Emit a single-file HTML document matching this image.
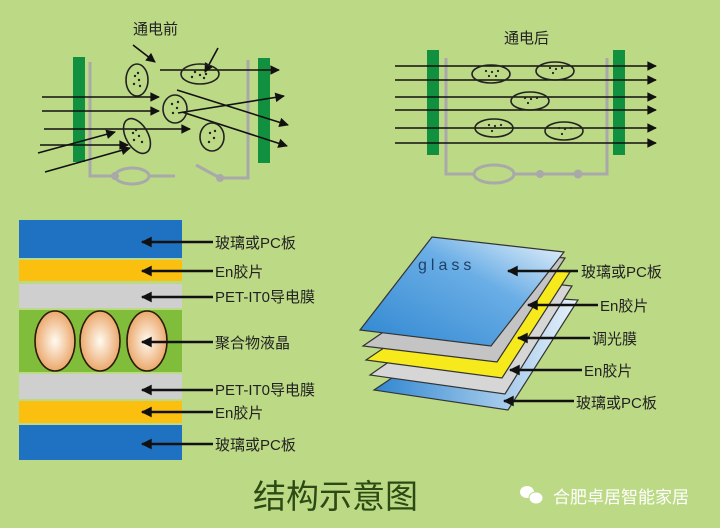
<!DOCTYPE html>
<html><head><meta charset="utf-8"><style>
html,body{margin:0;padding:0;background:#bcd985;}
svg{display:block}
text{font-family:"Liberation Sans","Noto Sans CJK SC",sans-serif;}
</style></head><body>
<svg width="720" height="528" viewBox="0 0 720 528" xmlns="http://www.w3.org/2000/svg">
<defs>
<marker id="ah" viewBox="0 0 10 10" refX="9" refY="5" markerWidth="7" markerHeight="6" orient="auto" markerUnits="strokeWidth"><path d="M0,0 L10,5 L0,10 z" fill="#111"/></marker>
<marker id="ah2" viewBox="0 0 10 10" refX="9" refY="5" markerWidth="5" markerHeight="4.5" orient="auto" markerUnits="strokeWidth"><path d="M0,0 L10,5 L0,10 z" fill="#111"/></marker>
<radialGradient id="eg" cx="50%" cy="50%" r="55%"><stop offset="0" stop-color="#fffaf0"/><stop offset="1" stop-color="#e9a060"/></radialGradient>
<linearGradient id="gl" x1="0" y1="1" x2="1" y2="0"><stop offset="0" stop-color="#2f86d0"/><stop offset="0.6" stop-color="#6aaee6"/><stop offset="1" stop-color="#eef5fb"/></linearGradient>
<linearGradient id="gl2" x1="0" y1="0" x2="1" y2="0"><stop offset="0" stop-color="#2f86d0"/><stop offset="1" stop-color="#e8f2fb"/></linearGradient>
</defs>
<rect width="720" height="528" fill="#bcd985"/>

<!-- top left -->
<text x="133" y="34" font-size="15" fill="#222">通电前</text>
<rect x="73" y="57" width="12" height="105" fill="#119140"/>
<rect x="258" y="58" width="12" height="105" fill="#119140"/>
<g stroke="#a9a9a9" stroke-width="3" fill="none">
<path d="M90,62 V176 H115"/>
<ellipse cx="132" cy="176" rx="17" ry="8"/>
<path d="M149,176 H175"/>
<path d="M196,165 L220,178 H248 V60"/>
</g>
<circle cx="115" cy="176" r="4" fill="#a9a9a9"/><circle cx="220" cy="178" r="4" fill="#a9a9a9"/>
<g stroke="#111" stroke-width="1.6" fill="none">
<line x1="133" y1="45" x2="155" y2="62" marker-end="url(#ah)"/>
<line x1="218" y1="48" x2="205" y2="72" marker-end="url(#ah)"/>
<line x1="160" y1="70" x2="279" y2="70" marker-end="url(#ah)"/>
<line x1="42" y1="97" x2="159" y2="97" marker-end="url(#ah)"/>
<line x1="42" y1="111" x2="159" y2="111" marker-end="url(#ah)"/>
<line x1="44" y1="129" x2="190" y2="129" marker-end="url(#ah)"/>
<line x1="40" y1="145" x2="128" y2="145" marker-end="url(#ah)"/>
<line x1="38" y1="153" x2="115" y2="132" marker-end="url(#ah)"/>
<line x1="45" y1="172" x2="130" y2="148" marker-end="url(#ah)"/>
<line x1="177" y1="90" x2="288" y2="125" marker-end="url(#ah)"/>
<line x1="178" y1="113" x2="284" y2="96" marker-end="url(#ah)"/>
<line x1="182" y1="112" x2="287" y2="146" marker-end="url(#ah)"/>
</g>
<g stroke="#222" stroke-width="1.6" fill="none">
<ellipse cx="137" cy="80" rx="11" ry="16"/>
<ellipse cx="200" cy="74" rx="19" ry="10"/>
<ellipse cx="175" cy="109" rx="12" ry="14"/>
<ellipse cx="137" cy="136" rx="11" ry="19" transform="rotate(-30 137 136)"/>
<ellipse cx="212" cy="137" rx="12" ry="14"/>
</g>
<g fill="#222">
<circle cx="135" cy="76" r="1.2"/><circle cx="139" cy="80" r="1.2"/><circle cx="134" cy="84" r="1.2"/><circle cx="140" cy="86" r="1.2"/><circle cx="138" cy="73" r="1.2"/>
<circle cx="195" cy="72" r="1.2"/><circle cx="200" cy="75" r="1.2"/><circle cx="206" cy="74" r="1.2"/><circle cx="192" cy="77" r="1.2"/><circle cx="204" cy="78" r="1.2"/>
<circle cx="172" cy="104" r="1.2"/><circle cx="177" cy="108" r="1.2"/><circle cx="173" cy="113" r="1.2"/><circle cx="178" cy="102" r="1.2"/>
<circle cx="136" cy="130" r="1.2"/><circle cx="139" cy="136" r="1.2"/><circle cx="142" cy="142" r="1.2"/><circle cx="134" cy="140" r="1.2"/><circle cx="133" cy="133" r="1.2"/>
<circle cx="210" cy="133" r="1.2"/><circle cx="214" cy="138" r="1.2"/><circle cx="209" cy="142" r="1.2"/><circle cx="215" cy="131" r="1.2"/>
</g>

<!-- top right -->
<text x="504" y="43" font-size="15" fill="#222">通电后</text>
<rect x="427" y="50" width="12" height="105" fill="#119140"/>
<rect x="613" y="50" width="12" height="105" fill="#119140"/>
<g stroke="#a9a9a9" stroke-width="3" fill="none">
<path d="M446,58 V174 H474"/>
<ellipse cx="494" cy="174" rx="20" ry="9"/>
<path d="M514,174 H578 H607 V58"/>
</g>
<circle cx="540" cy="174" r="4" fill="#a9a9a9"/><circle cx="578" cy="174" r="4.5" fill="#a9a9a9"/>
<g stroke="#111" stroke-width="1.6">
<line x1="395" y1="66" x2="656" y2="66" marker-end="url(#ah)"/>
<line x1="395" y1="80" x2="656" y2="80" marker-end="url(#ah)"/>
<line x1="395" y1="97" x2="656" y2="97" marker-end="url(#ah)"/>
<line x1="395" y1="110" x2="656" y2="110" marker-end="url(#ah)"/>
<line x1="395" y1="128" x2="656" y2="128" marker-end="url(#ah)"/>
<line x1="395" y1="143" x2="656" y2="143" marker-end="url(#ah)"/>
</g>
<g stroke="#222" stroke-width="1.6" fill="none">
<ellipse cx="491" cy="74" rx="19" ry="9"/>
<ellipse cx="555" cy="71" rx="19" ry="9"/>
<ellipse cx="530" cy="101" rx="19" ry="9"/>
<ellipse cx="494" cy="128" rx="19" ry="9"/>
<ellipse cx="564" cy="131" rx="19" ry="9"/>
</g>
<g fill="#222">
<circle cx="486" cy="71" r="1.1"/><circle cx="492" cy="72" r="1.1"/><circle cx="498" cy="71" r="1.1"/><circle cx="489" cy="76" r="1.1"/><circle cx="496" cy="76" r="1.1"/>
<circle cx="550" cy="68" r="1.1"/><circle cx="556" cy="69" r="1.1"/><circle cx="562" cy="68" r="1.1"/><circle cx="553" cy="73" r="1.1"/>
<circle cx="525" cy="98" r="1.1"/><circle cx="531" cy="99" r="1.1"/><circle cx="537" cy="98" r="1.1"/><circle cx="528" cy="103" r="1.1"/>
<circle cx="489" cy="125" r="1.1"/><circle cx="495" cy="126" r="1.1"/><circle cx="501" cy="125" r="1.1"/><circle cx="492" cy="131" r="1.1"/>
<circle cx="559" cy="128" r="1.1"/><circle cx="565" cy="129" r="1.1"/><circle cx="571" cy="128" r="1.1"/><circle cx="562" cy="134" r="1.1"/>
</g>

<!-- left stack -->
<rect x="19" y="220" width="163" height="38" fill="#1f72c2"/>
<rect x="19" y="260" width="163" height="21" fill="#fbbf10"/>
<rect x="19" y="284" width="163" height="24" fill="#cfcfcf"/>
<rect x="19" y="310" width="163" height="62" fill="#7fbd3a"/>
<rect x="19" y="374" width="163" height="25" fill="#cfcfcf"/>
<rect x="19" y="401" width="163" height="22" fill="#fbbf10"/>
<rect x="19" y="425" width="163" height="35" fill="#1f72c2"/>
<g stroke="#2a1a0a" stroke-width="1.6" fill="url(#eg)">
<ellipse cx="55" cy="341" rx="20" ry="30"/>
<ellipse cx="100" cy="341" rx="20" ry="30"/>
<ellipse cx="147" cy="341" rx="20" ry="30"/>
</g>
<g stroke="#111" stroke-width="2.4">
<line x1="213" y1="242" x2="142" y2="242" marker-end="url(#ah2)"/>
<line x1="213" y1="271" x2="142" y2="271" marker-end="url(#ah2)"/>
<line x1="213" y1="297" x2="142" y2="297" marker-end="url(#ah2)"/>
<line x1="213" y1="342" x2="142" y2="342" marker-end="url(#ah2)"/>
<line x1="213" y1="390" x2="142" y2="390" marker-end="url(#ah2)"/>
<line x1="213" y1="412" x2="142" y2="412" marker-end="url(#ah2)"/>
<line x1="213" y1="444" x2="142" y2="444" marker-end="url(#ah2)"/>
</g>
<g font-size="15" fill="#222">
<text x="215" y="248">玻璃或PC板</text>
<text x="215" y="277">En胶片</text>
<text x="215" y="302">PET-IT0导电膜</text>
<text x="215" y="348">聚合物液晶</text>
<text x="215" y="395">PET-IT0导电膜</text>
<text x="215" y="418">En胶片</text>
<text x="215" y="450">玻璃或PC板</text>
</g>

<!-- right stack -->
<g stroke="#333" stroke-width="1.2">
<polygon points="374,390 514,296 578,300 508,410" fill="url(#gl2)"/>
<polygon points="370,375 508,279 572,286 505,394" fill="#d6d6d6"/>
<polygon points="366,360 505,266 570,272 502,378" fill="#f7ea1c"/>
<polygon points="363,346 500,252 565,258 497,362" fill="#c4c4c4"/>
<polygon points="360,330 432,237 564,252 491,346" fill="url(#gl)"/>
</g>
<text x="418" y="270" font-size="16" fill="#1f3f66" letter-spacing="4">glass</text>
<g stroke="#111" stroke-width="2.4">
<line x1="578" y1="271" x2="508" y2="271" marker-end="url(#ah2)"/>
<line x1="598" y1="305" x2="528" y2="305" marker-end="url(#ah2)"/>
<line x1="590" y1="338" x2="518" y2="338" marker-end="url(#ah2)"/>
<line x1="582" y1="370" x2="510" y2="370" marker-end="url(#ah2)"/>
<line x1="574" y1="401" x2="504" y2="401" marker-end="url(#ah2)"/>
</g>
<g font-size="15" fill="#222">
<text x="581" y="277">玻璃或PC板</text>
<text x="600" y="311">En胶片</text>
<text x="592" y="344">调光膜</text>
<text x="584" y="376">En胶片</text>
<text x="576" y="408">玻璃或PC板</text>
</g>

<text x="253" y="508" font-size="33" fill="#2c4a14" font-family="'Noto Serif CJK SC',serif">结构示意图</text>
<g fill="#fff">
<ellipse cx="527" cy="492" rx="7" ry="6"/>
<ellipse cx="536" cy="498" rx="7" ry="6" stroke="#bcd985" stroke-width="1"/>
</g>
<text x="553" y="503" font-size="17" fill="#fff">合肥卓居智能家居</text>
</svg>
</body></html>
